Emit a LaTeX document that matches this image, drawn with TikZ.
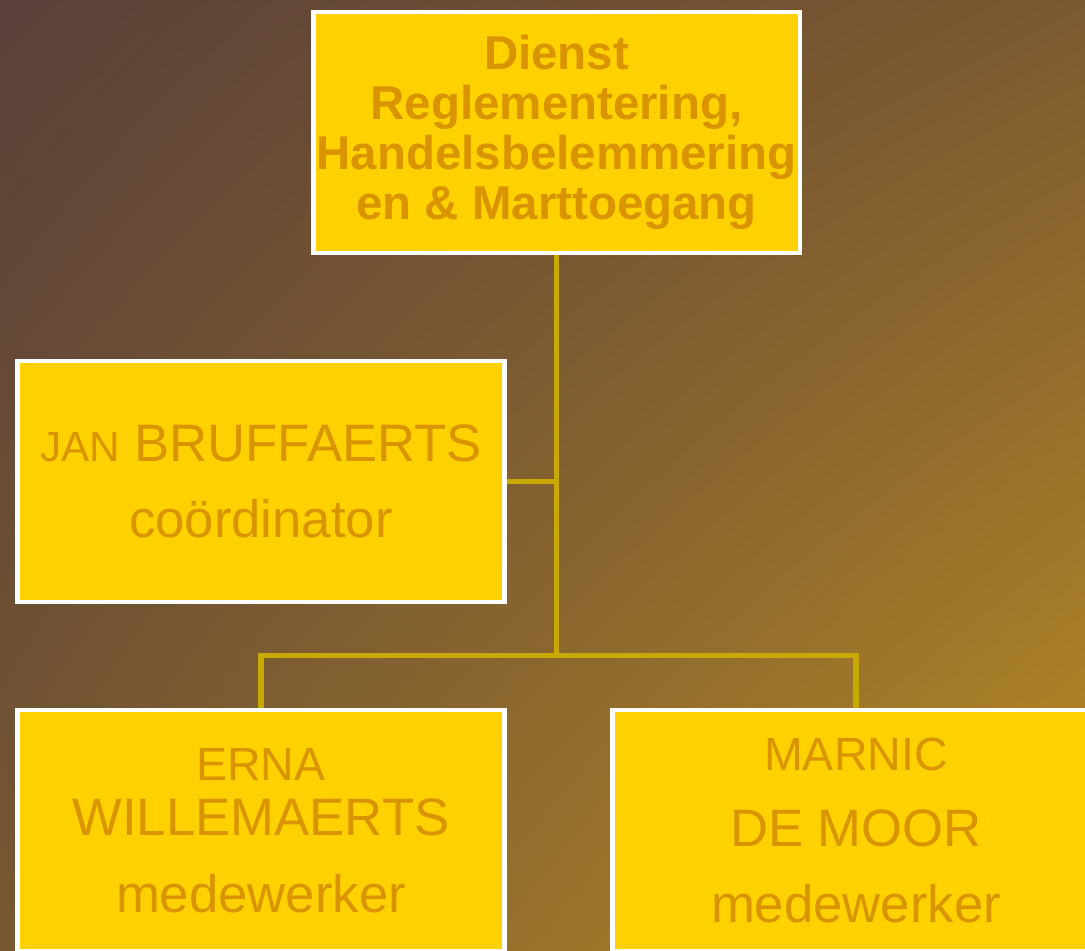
\documentclass[tikz,border=0pt]{standalone}
\usepackage{fontspec}
\setmainfont{Liberation Sans}
\usetikzlibrary{positioning}
\usetikzlibrary{shadings}
\definecolor{boxfill}{RGB}{255,209,0}
\definecolor{boxtext}{RGB}{217,148,0}
\definecolor{linkline}{RGB}{201,169,0}
\definecolor{bgtl}{RGB}{90,64,57}
\definecolor{bgtr}{RGB}{124,90,48}
\definecolor{bgbl}{RGB}{118,88,50}
\definecolor{bgbr}{RGB}{188,142,36}
\tikzset{box/.style = {draw=white, line width=2.8pt, fill=boxfill, text=boxtext, minimum width=9.74cm, minimum height=4.82cm, inner sep=1pt, align=center, font=\fontsize{30pt}{43.5pt}\selectfont}}
\tikzset{link/.style = {draw=linkline, line width=3.2pt}}

\begin{document}
\begin{tikzpicture}[x=0.02cm,y=0.02cm]
        \useasboundingbox (0,0) rectangle (1085,950);
        \clip (0,0) rectangle (1085,950);
        \shade [upper left=bgtl, upper right=bgtr, lower left=bgbl, lower right=bgbr] (0,0) rectangle (1085,950);
        \node[box, font=\bfseries\fontsize{27pt}{28.35pt}\selectfont] (dienst) at (556.5,817.5) {Dienst\\Reglementering,\\Handelsbelemmering\\en \& Marttoegang};
        \node[box] (jan) at (261,468.5) {{\fontsize{24pt}{24pt}\selectfont JAN} BRUFFAERTS\\coördinator};
        \node[box] (erna) at (261,119.5) {{\fontsize{26.5pt}{26.5pt}\selectfont ERNA}\\[-11.8pt]WILLEMAERTS\\medewerker};
        \node[box] (marnic) at (856,119.5) {{\fontsize{26.5pt}{26.5pt}\selectfont MARNIC}\\DE MOOR\\medewerker};
        \coordinate (split) at (556.5,294.5);
        \draw [link] (dienst) -- (split);
        \draw [link] (split) -| (erna);
        \draw [link] (split) -| (marnic);
        \draw [link] (jan) -- (jan -| dienst);
    \end{tikzpicture}
\end{document}
